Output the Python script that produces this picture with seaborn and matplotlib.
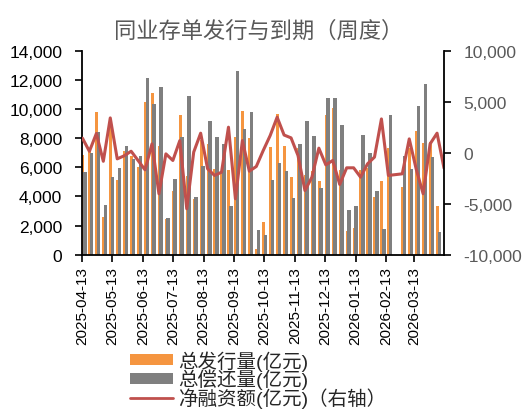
import numpy as np
import pandas as pd
import seaborn as sns
import matplotlib.pyplot as plt
from matplotlib.patches import Patch
from matplotlib.lines import Line2D
from matplotlib.ticker import FuncFormatter, MultipleLocator

# Weekly data, starting 2025-04-13 (week of 2026-02-22 missing: Spring Festival)
start_date = '2025-04-13'
n_weeks = 53
nan = np.nan

issue = [6880, 7100, 9800, 2570, 9000, 5150, 7150, 6750, 6020, 10470,
         11110, 7500, 2420, 4400, 9615, 5410, 3830, 7850, 7600, 5860,
         5720, 5850, 8090, 9910, 8000, 380, 2230, 7390, 9680, 7460,
         5330, 7360, 5500, 5760, 5050, 9570, 10070, 5800, 1600, 1860,
         5850, 5940, 3940, 5090, 7300, nan, 4640, 7300, 8490, 7670,
         7750, 3370, nan]
repay = [5670, 7000, 8400, 3400, 5330, 5950, 7460, 6600, 6770, 12140,
         10370, 11520, 2520, 5210, 8120, 10900, 3950, 6080, 9180, 8080,
         7620, 3370, 12600, 8650, 9800, 1720, 1380, 5140, 6290, 5740,
         3900, 7620, 9180, 8150, 4590, 10790, 10790, 8930, 3080, 3330,
         8240, 7020, 4360, 1770, 9570, nan, 6750, 5900, 10210, 11700,
         6700, 1580, nan]
net = [1440, 150, 1900, -830, 3430, -590, -290, 160, -750, -1670,
       880, -4020, -100, -750, 1200, -5490, 70, 1930, -1570, -2220,
       -1900, 2520, -4510, 1200, -1800, -1340, 230, 1700, 3500, 1750,
       1470, -260, -3700, -2390, 460, -1180, -750, -3100, -1470, -1470,
       -2390, -1080, -420, 3330, -2220, nan, -2060, 1370, -1600, -4020,
       880, 1930, -1500]

tick_labels = ['2025-04-13', '2025-05-13', '2025-06-13', '2025-07-13',
               '2025-08-13', '2025-09-13', '2025-10-13', '2025-11-13',
               '2025-12-13', '2026-01-13', '2026-02-13', '2026-03-13']

labels = ['总发行量(亿元)', '总偿还量(亿元)', '净融资额(亿元)（右轴）']

c_issue = '#F59540'
c_repay = '#7F7F7F'
c_net = '#C0504D'

sns.set_style('ticks')
plt.rcParams['font.family'] = ['Liberation Sans', 'Noto Sans CJK SC']

weeks = pd.date_range(start_date, periods=n_weeks, freq='7D')
df = pd.DataFrame({'day': (weeks - weeks[0]).days.astype(float),
                   'issue': issue, 'repay': repay, 'net': net})

fig = plt.figure(figsize=(5.32, 4.14), dpi=100)
ax = fig.add_axes([0.155, 0.3824, 0.6796, 0.492])

# orange bars slightly left, grey bars overlapping on the right
sns.barplot(x=df['day'] + 0.4, y=df['issue'], native_scale=True, orient='x',
            width=3.0 / 7, color=c_issue, saturation=1, errorbar=None, ax=ax,
            linewidth=0, edgecolor='none')
sns.barplot(x=df['day'] + 2.3, y=df['repay'], native_scale=True, orient='x',
            width=3.6 / 7, color=c_repay, saturation=1, errorbar=None, ax=ax,
            linewidth=0, edgecolor='none')

ax2 = ax.twinx()
sns.lineplot(data=df.dropna(subset=['net']), x='day', y='net', ax=ax2,
             color=c_net, linewidth=2.2)

ax.set_xlim(0, 364)
ax.set_ylim(0, 14000)
ax2.set_ylim(-10000, 10000)
ax.yaxis.set_major_locator(MultipleLocator(2000))
ax2.yaxis.set_major_locator(MultipleLocator(5000))
fmt = FuncFormatter(lambda v, p: f'{v:,.0f}')
ax.yaxis.set_major_formatter(fmt)
ax2.yaxis.set_major_formatter(fmt)

tick_days = [(pd.Timestamp(t) - weeks[0]).days for t in tick_labels]
ax.set_xticks(tick_days)
ax.set_xticklabels(tick_labels, rotation=90)

for a in (ax, ax2):
    a.set_xlabel('')
    a.set_ylabel('')
    a.spines['top'].set_visible(False)
    for s in a.spines.values():
        s.set_linewidth(1.3)
        s.set_color('black')
ax.spines['right'].set_visible(False)
ax2.spines['left'].set_visible(False)
ax2.spines['bottom'].set_visible(False)

ax.tick_params(axis='x', length=5, width=1.2, pad=3, labelsize=11, colors='black')
ax.tick_params(axis='y', length=5, width=1.2, pad=9.5, labelsize=12.5, colors='black')
ax2.tick_params(axis='y', length=5, width=1.2, pad=9, labelsize=12.5,
                labelcolor='#595959', color='black')

fig.text(0.487, 0.923, '同业存单发行与到期（周度）', ha='center', va='center',
         fontsize=16, color='#595959')

handles = [Patch(facecolor=c_issue, edgecolor='none'),
           Patch(facecolor=c_repay, edgecolor='none'),
           Line2D([], [], color=c_net, linewidth=2)]
fig.legend(handles, labels, loc='center left', bbox_to_anchor=(0.245, 0.082),
           frameon=False, fontsize=14, labelspacing=-0.1, handlelength=2.2,
           handleheight=0.5, handletextpad=0.25, borderpad=0, borderaxespad=0)

fig.savefig('out.png', dpi=100)
